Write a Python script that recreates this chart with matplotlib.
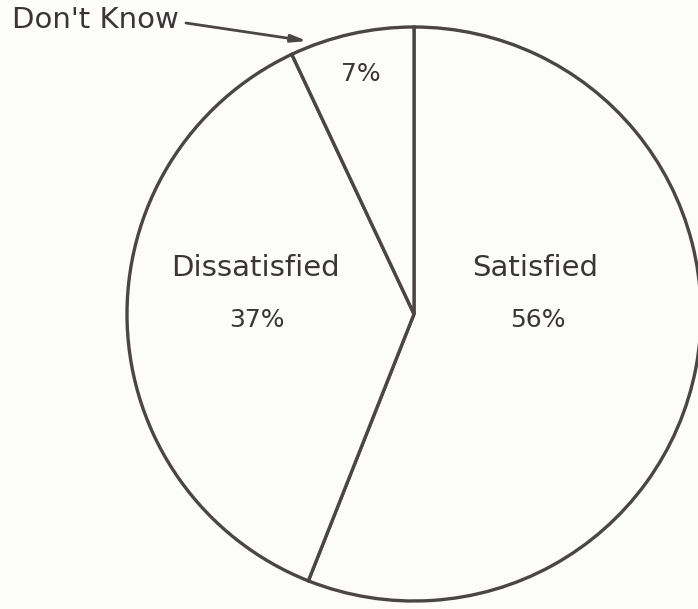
import matplotlib.pyplot as plt

labels = ["Satisfied", "Dissatisfied", "Don't Know"]
shares = [56, 37, 7]

W, H = 698, 609
ink = "#4a4547"
paper = "#fcfcfa"

fig = plt.figure(figsize=(W / 100, H / 100), dpi=100, facecolor=paper)
ax = fig.add_axes([0, 0, 1, 1])
ax.set_facecolor(paper)

# pie drawn clockwise from twelve o'clock, outline only
ax.pie(shares, startangle=90, counterclock=False, center=(414, H - 314),
       radius=287, colors=[paper] * 3, frame=True,
       wedgeprops=dict(edgecolor=ink, linewidth=2.4))
ax.set_xlim(0, W)
ax.set_ylim(0, H)
ax.set_aspect("equal")
ax.axis("off")

font = dict(family="DejaVu Sans", color="#3a3638", ha="center", va="center")
ax.text(535, H - 268, labels[0], fontsize=21, **font)
ax.text(538, H - 320, f"{shares[0]}%", fontsize=18, **font)
ax.text(255, H - 268, labels[1], fontsize=21, **font)
ax.text(257, H - 320, f"{shares[1]}%", fontsize=18, **font)
ax.text(361, H - 74, f"{shares[2]}%", fontsize=18, **font)

# callout for the small slice
ax.text(12, H - 20, labels[2], fontsize=21, color="#3a3638",
        ha="left", va="center")
ax.annotate("", xy=(307, H - 41), xytext=(186, H - 23),
            arrowprops=dict(arrowstyle="-|>,head_length=0.9,head_width=0.22",
                            color=ink, lw=2, shrinkA=0, shrinkB=0))

fig.savefig("out.png", dpi=100, facecolor=paper)
